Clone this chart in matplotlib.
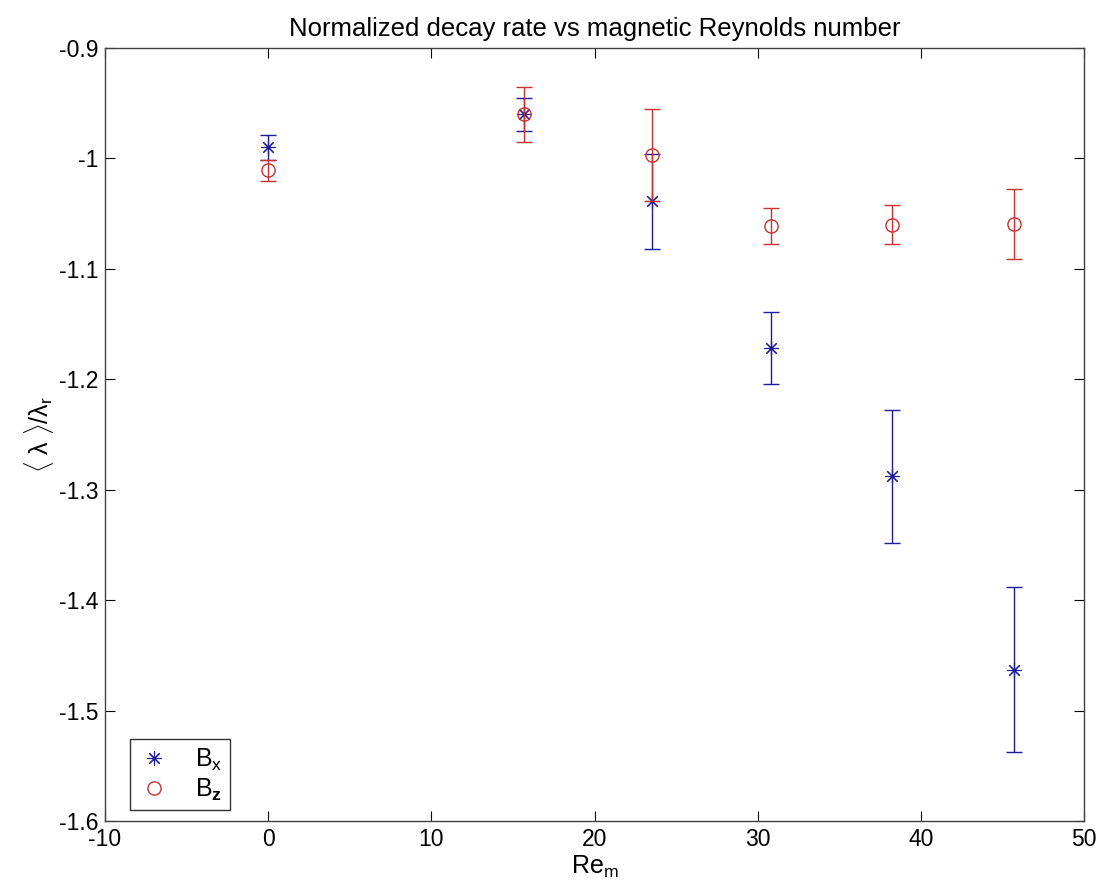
import matplotlib
matplotlib.use("Agg")
import matplotlib.pyplot as plt
from matplotlib.lines import Line2D

plt.rcParams['font.family'] = ['Liberation Sans', 'DejaVu Sans']
plt.rcParams['mathtext.fontset'] = 'custom'
plt.rcParams['mathtext.rm'] = 'Liberation Sans'
plt.rcParams['mathtext.it'] = 'Liberation Sans'
plt.rcParams['mathtext.bf'] = 'Liberation Sans:bold'

# Data
rem = [0.0, 15.7, 23.5, 30.8, 38.25, 45.7]
bx_mean = [-0.990, -0.960, -1.039, -1.172, -1.288, -1.463]
bx_err = [0.0115, 0.015, 0.043, 0.0325, 0.060, 0.075]
bz_mean = [-1.0105, -0.960, -0.997, -1.061, -1.060, -1.0595]
bz_err = [0.0095, 0.025, 0.042, 0.0165, 0.0175, 0.032]

xticks = [-10, 0, 10, 20, 30, 40, 50]
yticks = [-1.6, -1.5, -1.4, -1.3, -1.2, -1.1, -1.0, -0.9]

blue = '#1c1c9a'
red = '#c83232'
asterisk = (8, 2, 0)

fig = plt.figure(figsize=(10.99, 8.94), dpi=100)
ax = fig.add_axes([0.0955, 0.0817, 0.8909, 0.8646])

ax.errorbar(rem, bx_mean, yerr=bx_err, fmt='none', ecolor=blue,
            elinewidth=1.0, capsize=5.8, capthick=1.0)
ax.plot(rem, bx_mean, linestyle='none', marker=asterisk, markersize=10.5,
        markeredgecolor=blue, markerfacecolor=blue, markeredgewidth=0.8)
ax.errorbar(rem, bz_mean, yerr=bz_err, fmt='none', ecolor=red,
            elinewidth=1.0, capsize=5.8, capthick=1.0)
ax.plot(rem, bz_mean, linestyle='none', marker='o', markersize=9.5,
        markeredgecolor=red, markerfacecolor='none', markeredgewidth=1.0)

ax.set_xlim(-10, 50)
ax.set_ylim(-1.6, -0.9)
ax.set_xticks(xticks)
ax.set_xticklabels([str(v) for v in xticks])
ax.set_yticks(yticks)
ax.set_yticklabels(['%g' % v for v in yticks])
ax.tick_params(direction='in', length=7, width=0.8, top=True, right=True,
               labelsize=16.5, colors='black', pad=5)
for s in ax.spines.values():
    s.set_color('#404040')
    s.set_linewidth(1.0)

ax.set_title('Normalized decay rate vs magnetic Reynolds number', fontsize=18.5, pad=9)
ax.set_xlabel(r'Re$_\mathrm{m}$', fontsize=18, labelpad=2)
ax.set_ylabel(r'$\langle\ \lambda\ \rangle/\lambda_\mathrm{r}$', fontsize=18, labelpad=2)

handles = [
    Line2D([], [], linestyle='none', marker=asterisk, markersize=10.5,
           markeredgecolor=blue, markerfacecolor=blue, markeredgewidth=0.8),
    Line2D([], [], linestyle='none', marker='o', markersize=9.5,
           markeredgecolor=red, markerfacecolor='none', markeredgewidth=1.0),
]
leg = ax.legend(handles, [r'B$_\mathrm{x}$', r'B$_\mathbf{z}$'], loc='lower left',
                bbox_to_anchor=(0.026, 0.014), fontsize=18, frameon=True,
                fancybox=False, edgecolor='black', handlelength=1.3,
                handletextpad=1.0, borderpad=0.3, labelspacing=0.15,
                borderaxespad=0)
leg.get_frame().set_linewidth(1.0)

fig.savefig('out.png', dpi=100)
